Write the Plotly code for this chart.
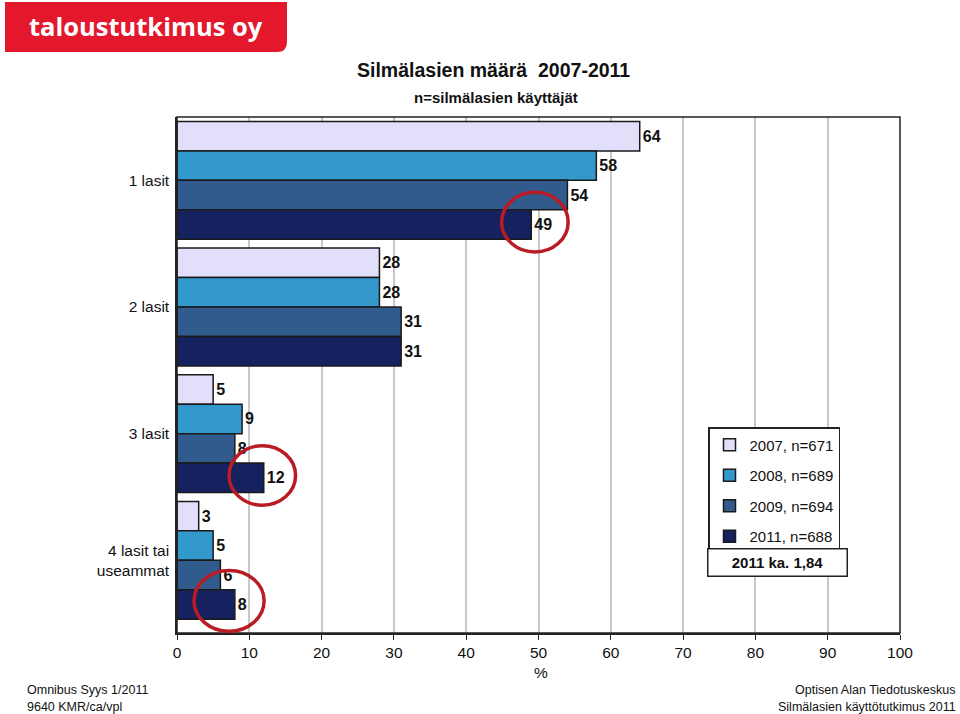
import plotly.graph_objects as go

categories = ["1 lasit", "2 lasit", "3 lasit", "4 lasit tai<br>useammat"]
series_names = ["2007, n=671", "2008, n=689", "2009, n=694", "2011, n=688"]
values_2007 = [64, 28, 5, 3]
values_2008 = [58, 28, 9, 5]
values_2009 = [54, 31, 8, 6]
values_2011 = [49, 31, 12, 8]
series_values = [values_2007, values_2008, values_2009, values_2011]
colors = ["#E2DFFB", "#3398CB", "#325B8D", "#15225F"]
x_ticks = [0, 10, 20, 30, 40, 50, 60, 70, 80, 90, 100]

W, H = 960, 714
L, R, T, B = 177, 60, 117, 81
PW, PH = W - L - R, H - T - B

def px(xp):
    return (xp - L) / PW

def py(yp):
    return (H - B - yp) / PH

FONT = "Liberation Sans, Arial, sans-serif"

fig = go.Figure()
for name, vals, col in zip(series_names, series_values, colors):
    fig.add_trace(go.Bar(
        y=categories, x=vals, name=name, orientation="h",
        marker=dict(color=col, line=dict(color="#1a1a1a", width=1.5)),
        text=[str(v) for v in vals], textposition="outside",
        textfont=dict(family=FONT, size=16, color="#111"),
        texttemplate="<b>%{text}</b>",
        cliponaxis=False, legendgroup=name,
    ))

shapes = []
shapes.append(dict(type="rect", xref="paper", yref="paper", x0=0, x1=1, y0=0, y1=1,
                   line=dict(color="#222", width=1.5), fillcolor="rgba(0,0,0,0)", layer="above"))
for cx, cy, rx, ry in [(49.5, 0.33, 4.6, 0.235), (11.8, 2.33, 4.6, 0.235), (7.2, 3.32, 4.85, 0.24)]:
    shapes.append(dict(type="circle", xref="x", yref="y", x0=cx - rx, x1=cx + rx,
                       y0=cy - ry, y1=cy + ry, line=dict(color="#B91C24", width=3.5), layer="above"))
x0, y0, r = px(5), py(2), 10
path = (f"M {x0},{y0} L {px(287)},{y0} L {px(287)},{py(52-r)} "
        f"Q {px(287)},{py(52)} {px(287-r)},{py(52)} L {x0},{py(52)} Z")
shapes.append(dict(type="path", xref="paper", yref="paper", path=path,
                   fillcolor="#E3182D", line=dict(width=0)))

annotations = [
    dict(text="<b>taloustutkimus oy</b>", xref="paper", yref="paper", x=px(146), y=py(26),
         showarrow=False, font=dict(family="Open Sans, Liberation Sans, sans-serif", size=25.5, color="white"),
         xanchor="center", yanchor="middle"),
    dict(text="<b>Silmälasien määrä  2007-2011</b>", xref="paper", yref="paper", x=px(493), y=py(70),
         showarrow=False, font=dict(family=FONT, size=19.5, color="#111"), xanchor="center", yanchor="middle"),
    dict(text="<b>n=silmälasien käyttäjät</b>", xref="paper", yref="paper", x=px(496), y=py(98),
         showarrow=False, font=dict(family=FONT, size=15, color="#111"), xanchor="center", yanchor="middle"),
    dict(text="<b>2011 ka. 1,84</b>", xref="paper", yref="paper", x=px(777.5), y=py(562.5),
         showarrow=False, font=dict(family=FONT, size=15, color="#111"), xanchor="center", yanchor="middle",
         bordercolor="#222", borderwidth=1.5, width=136, height=24, bgcolor="white"),
    dict(text="%", xref="paper", yref="paper", x=px(541), y=py(672),
         showarrow=False, font=dict(family=FONT, size=15.5, color="#111"), xanchor="center", yanchor="middle"),
]
footer_font = dict(family="Liberation Sans Narrow, Arial Narrow, Liberation Sans, sans-serif", size=12.5, color="#111")
for txt, xp, yp, anc in [("Omnibus Syys 1/2011", 25, 690, "left"), ("9640 KMR/ca/vpl", 25, 707, "left"),
                         ("Optisen Alan Tiedotuskeskus", 958, 690, "right"),
                         ("Silmälasien käyttötutkimus 2011", 958, 707, "right")]:
    annotations.append(dict(text=txt, xref="paper", yref="paper", x=px(xp), y=py(yp), showarrow=False,
                            font=footer_font, xanchor=anc, yanchor="middle"))

fig.update_layout(
    width=W, height=H, margin=dict(l=L, r=R, t=T, b=B),
    paper_bgcolor="white", plot_bgcolor="white",
    barmode="group", bargap=0.07, bargroupgap=0,
    font=dict(family=FONT, size=15, color="#111"),
    showlegend=True,
    legend=dict(x=px(708), y=py(427), xanchor="left", yanchor="top",
                bordercolor="#222", borderwidth=1.5, bgcolor="white",
                font=dict(family=FONT, size=15, color="#111"),
                tracegroupgap=8, itemwidth=30, traceorder="grouped",
                entrywidth=100),
    shapes=shapes, annotations=annotations,
    xaxis=dict(range=[0, 100], tickvals=x_ticks, ticks="outside", ticklen=5, tickcolor="#222",
               showgrid=True, gridcolor="#C8C8C8", gridwidth=1.5, zeroline=False,
               showline=True, linecolor="#222", linewidth=1.5,
               tickfont=dict(family=FONT, size=15.5, color="#111")),
    yaxis=dict(autorange="reversed", showline=True, linecolor="#222", linewidth=1.5,
               ticks="", showgrid=False, ticklabelstandoff=3,
               tickfont=dict(family=FONT, size=15.5, color="#111")),
)

fig.write_html("out.html")
